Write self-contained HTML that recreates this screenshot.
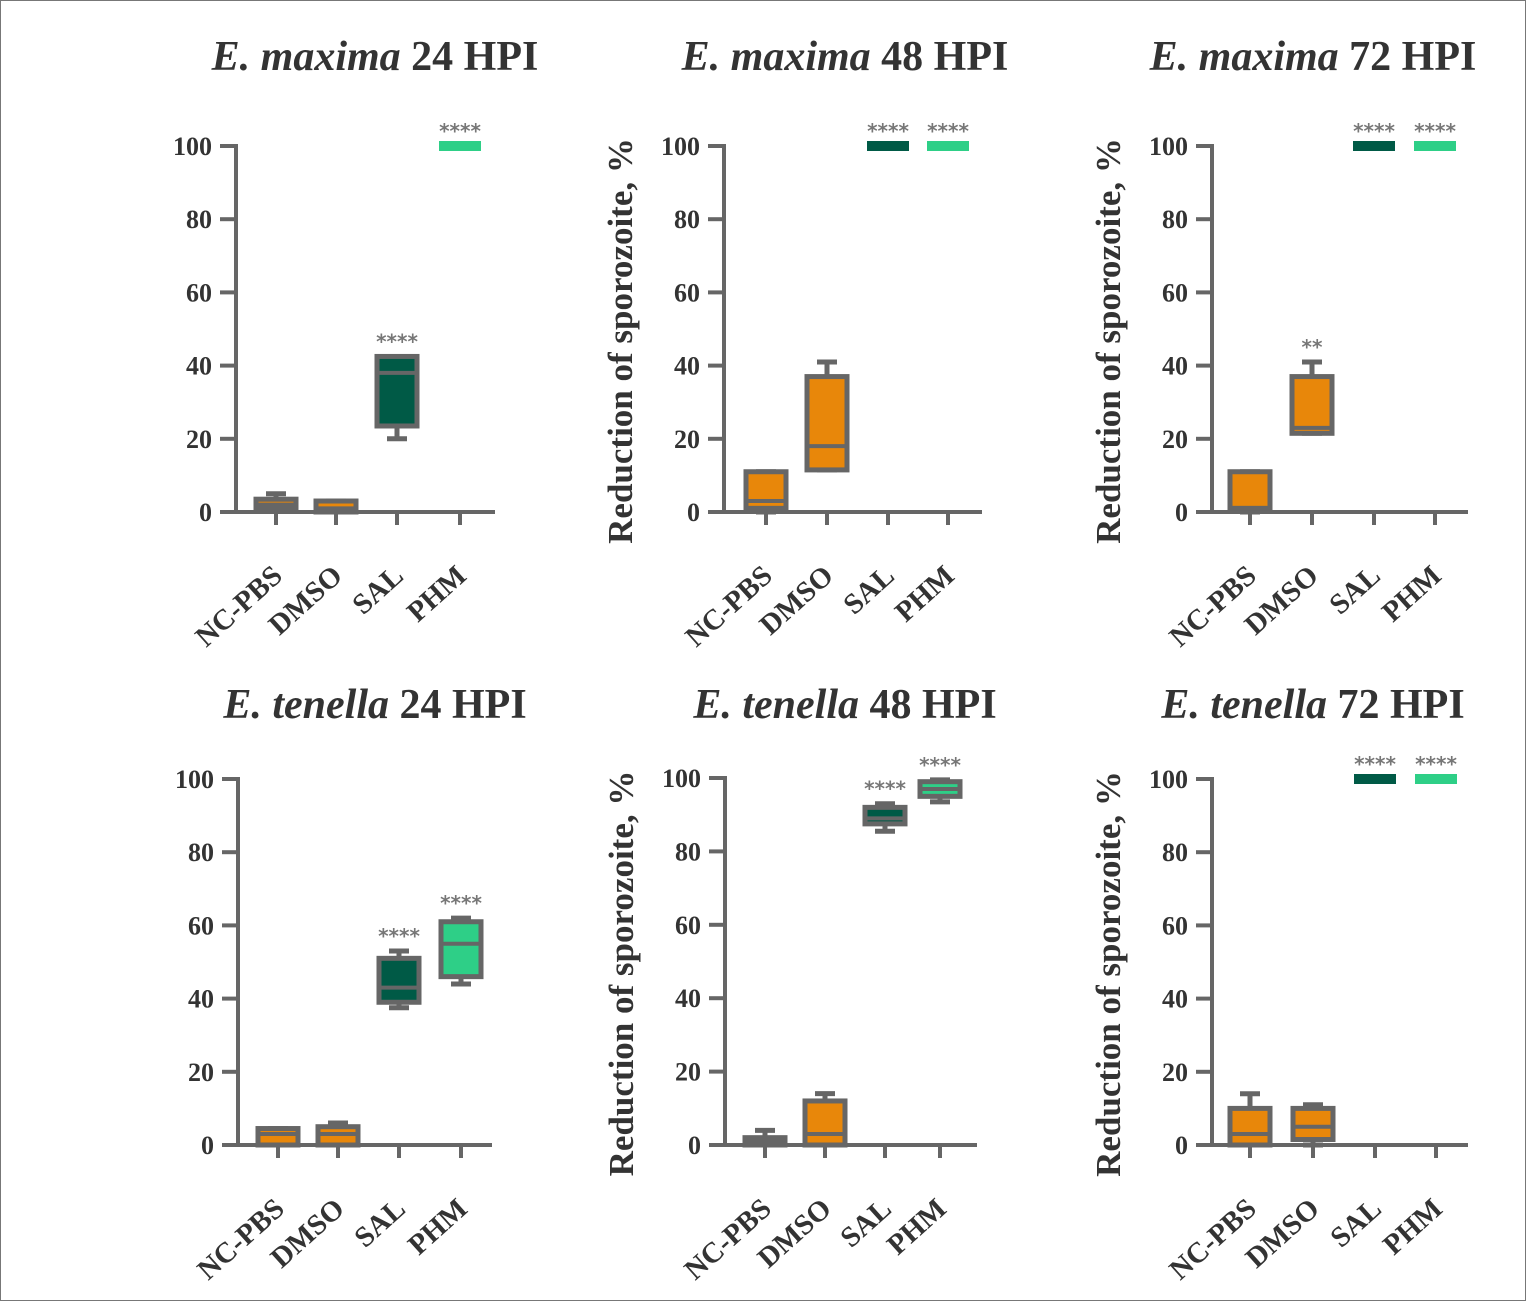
<!DOCTYPE html>
<html><head><meta charset="utf-8"><style>
body{margin:0;background:#fff}
svg{display:block}
text{font-family:"Liberation Serif",serif;font-weight:bold;fill:#333}
</style></head><body>
<svg id="c" width="1526" height="1301" viewBox="0 0 1526 1301" xmlns="http://www.w3.org/2000/svg">
<rect x="0.5" y="0.5" width="1525" height="1300" fill="#fff" stroke="#777"/>
</svg>
<script>
const categories=["NC-PBS","DMSO","SAL","PHM"];
const yTicks=[0,20,40,60,80,100];
const titles=[["E. maxima"," 24 HPI"],["E. maxima"," 48 HPI"],["E. maxima"," 72 HPI"],["E. tenella"," 24 HPI"],["E. tenella"," 48 HPI"],["E. tenella"," 72 HPI"]];
// [min,q1,median,q3,max] per category per panel
const p1=[[1,1,2,3.5,5],[0,0,1,3,3],[20,23.5,38,42.5,42.5],[100,100,100,100,100]];
const p2=[[0,1,3,11,11],[11.5,11.5,18,37,41],[100,100,100,100,100],[100,100,100,100,100]];
const p3=[[0,1,1,11,11],[21.5,21.5,23,37,41],[100,100,100,100,100],[100,100,100,100,100]];
const p4=[[0,0,3,4.5,4.5],[0,0,3,5,6],[37.5,39,43,51,53],[44,46,55,61,62]];
const p5=[[0,0,1,2,4],[0,0,3,12,14],[85.5,87.5,89,92,93],[93.5,95,97,99,99.5]];
const p6=[[0,0,3,10,14],[0,1.5,5,10,11],[100,100,100,100,100],[100,100,100,100,100]];
const stars1=["","","****","****"],stars2=["","","****","****"],stars3=["","**","****","****"];
const stars4=["","","****","****"],stars5=["","","****","****"],stars6=["","","****","****"];
const allData=[p1,p2,p3,p4,p5,p6];
const allStars=[stars1,stars2,stars3,stars4,stars5,stars6];
const colors=["#e8870a","#e8870a","#005a46","#2ecf87"];
const geo=[
 {ax:236,y0:512,y1:146,xe:495,cx:[276,336,397,460],tx:375,ty:70,yl:false},
 {ax:724,y0:512,y1:146,xe:982,cx:[766,827,888,948],tx:845,ty:70,yl:true},
 {ax:1212,y0:512,y1:146,xe:1468,cx:[1250,1312,1374,1435],tx:1313,ty:70,yl:true},
 {ax:238,y0:1145,y1:779,xe:492,cx:[278,338,399,461],tx:375,ty:718,yl:false},
 {ax:725,y0:1145,y1:778,xe:977,cx:[765,825,885,940],tx:845,ty:718,yl:true},
 {ax:1212,y0:1145,y1:779,xe:1468,cx:[1250,1313,1375,1436],tx:1313,ty:718,yl:true}];
const svg=document.getElementById('c');const NS="http://www.w3.org/2000/svg";
function mk(t,a,p){const e=document.createElementNS(NS,t);for(const k in a)e.setAttribute(k,a[k]);(p||svg).appendChild(e);return e;}
const G="#666";
geo.forEach((g,pi)=>{
 const grp=mk('g',{});
 
 
 const y=v=>g.y0+(g.y1-g.y0)*v/100;
 const t=mk('text',{x:g.tx,y:g.ty,'text-anchor':'middle','font-size':42},grp);
 
 
 const a=mk('tspan',{'font-style':'italic'},t);a.textContent=titles[pi][0];
 const b=mk('tspan',{},t);b.textContent=titles[pi][1];
 const ya=mk('line',{x1:g.ax,y1:g.y1-2,x2:g.ax,y2:g.y0+2,stroke:G,'stroke-width':4},grp);
 
 
 const xa=mk('line',{x1:g.ax-16,y1:g.y0,x2:g.xe,y2:g.y0,stroke:G,'stroke-width':4},grp);
 
 
 yTicks.forEach(v=>{
  mk('line',{x1:g.ax-16,y1:y(v),x2:g.ax,y2:y(v),stroke:G,'stroke-width':4},grp);
  const l=mk('text',{x:g.ax-24,y:y(v)+9,'text-anchor':'end','font-size':26},grp);
  
  
  l.textContent=v;
 });
 if(g.yl){const yl=mk('text',{transform:`translate(${g.ax-92},${(g.y0+g.y1)/2+12}) rotate(-90)`,'text-anchor':'middle','font-size':35},grp);
  
  
  yl.textContent='Reduction of sporozoite, %';}
 categories.forEach((c,i)=>{
  const x=g.cx[i];
  mk('line',{x1:x,y1:g.y0,x2:x,y2:g.y0+13,stroke:G,'stroke-width':4},grp);
  const cl=mk('text',{transform:`translate(${x+8},${g.y0+66}) rotate(-42)`,'text-anchor':'end','font-size':29},grp);
  
  
  cl.textContent=c;
  const d=allData[pi][i];const w=40;
  if(d[0]===d[4]){
   const r=mk('rect',{x:x-21,y:y(d[2])-5,width:42,height:10,fill:colors[i]},grp);
   
   
  } else {
   mk('line',{x1:x,y1:y(d[0]),x2:x,y2:y(d[4]),stroke:G,'stroke-width':5},grp);
   mk('line',{x1:x-10,y1:y(d[0]),x2:x+10,y2:y(d[0]),stroke:G,'stroke-width':5},grp);
   mk('line',{x1:x-10,y1:y(d[4]),x2:x+10,y2:y(d[4]),stroke:G,'stroke-width':5},grp);
   const top=y(d[3]),bot=y(d[1]);
   const r=mk('rect',{x:x-w/2,y:top,width:w,height:Math.max(bot-top,2),fill:colors[i],stroke:G,'stroke-width':5},grp);
   
   
   mk('line',{x1:x-w/2,y1:y(d[2]),x2:x+w/2,y2:y(d[2]),stroke:G,'stroke-width':4},grp);
  }
  const s=allStars[pi][i];
  if(s){const st=mk('text',{x:x,y:y(d[4])-8,'text-anchor':'middle','font-size':20,style:'fill:#777;font-family:"DejaVu Sans",sans-serif;font-weight:bold'},grp);
   
   
   st.textContent=s;}
 });
});
</script>
</body></html>
